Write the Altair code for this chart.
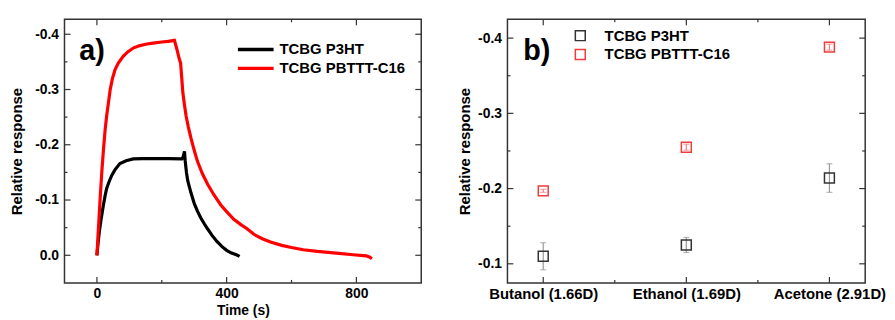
import altair as alt
import pandas as pd

FONT = "Liberation Sans"
FRAME = "#333333"

# ---------------- panel a) : time response ----------------
series = ["TCBG P3HT", "TCBG PBTTT-C16"]
line_colors = ["#000000", "#ff0000"]

p3ht_t = [0, 4, 8, 12, 20, 25, 30, 38, 46, 56, 71, 90, 112, 140, 180, 220, 262,
          266, 270, 272, 276, 280, 290, 300, 310, 320, 331, 341, 355, 370, 385,
          400, 415, 430, 440]
p3ht_v = [0.0, -0.025, -0.045, -0.062, -0.091, -0.107, -0.121, -0.134, -0.145,
          -0.155, -0.166, -0.171, -0.1745, -0.175, -0.175, -0.175, -0.1745,
          -0.178, -0.188, -0.172, -0.150, -0.135, -0.113, -0.094, -0.080,
          -0.068, -0.057, -0.048, -0.036, -0.025, -0.016, -0.009, -0.004,
          -0.001, 0.002]

pbttt_t = [0, 5, 10, 15, 20, 25, 30, 36, 41, 48, 56, 66, 81, 95, 112, 130, 150,
           173, 200, 220, 239, 247, 254, 258, 261, 265, 270, 275, 282, 290, 300,
           310, 325, 341, 360, 382, 400, 422, 445, 463, 484, 510, 535, 570, 600,
           636, 680, 738, 790, 830, 840, 848]
pbttt_v = [0.0, -0.052, -0.103, -0.150, -0.190, -0.225, -0.252, -0.278, -0.300,
           -0.320, -0.336, -0.348, -0.360, -0.368, -0.375, -0.379, -0.382,
           -0.384, -0.386, -0.387, -0.389, -0.372, -0.355, -0.348, -0.325,
           -0.294, -0.272, -0.252, -0.232, -0.212, -0.190, -0.170, -0.148,
           -0.129, -0.110, -0.091, -0.079, -0.065, -0.055, -0.048, -0.038,
           -0.030, -0.024, -0.018, -0.014, -0.010, -0.007, -0.004, -0.001,
           0.001, 0.003, 0.006]

a_x_major = [0, 400, 800]
a_x_minor = [200, 600]
a_y_major = [-0.4, -0.3, -0.2, -0.1, 0.0]
a_y_minor = [-0.35, -0.25, -0.15, -0.05]
a_x_domain = [-100, 1000]
a_y_domain = [-0.427, 0.05]

# ---------------- panel b) : solvents ----------------
solvents = ["Butanol (1.66D)", "Ethanol (1.69D)", "Acetone (2.91D)"]
p3ht_resp = [-0.110, -0.125, -0.214]
p3ht_err = [0.018, 0.010, 0.019]
pbttt_resp = [-0.197, -0.255, -0.388]
pbttt_err = [0.002, 0.004, 0.004]
point_colors = ["#333333", "#f03c3c"]
err_colors = ["#999999", "#f08080"]

b_x_major = [1, 2, 3]
b_x_minor = [1.5, 2.5]
b_y_major = [-0.4, -0.3, -0.2, -0.1]
b_y_minor = [-0.35, -0.25, -0.15]
b_x_domain = [0.75, 3.25]
b_y_domain = [-0.425, -0.0746]

panel_labels = ["a)", "b)"]

W_A, H = 360, 266
W_B = 361

NUM_LABEL = "replace(format(datum.value, '.1f'), '\u2212', '-')"

# ----- shared scales / axes -----
xs_a = alt.Scale(domain=a_x_domain, nice=False, zero=False)
ys_a = alt.Scale(domain=a_y_domain, nice=False, zero=False, reverse=True)
xax_a = alt.Axis(values=a_x_major, title="Time (s)", labelFlush=False,
                 labelFontSize=14, labelFontWeight="bold", labelPadding=4,
                 titleFontSize=14, titleFontWeight="bold", titlePadding=3)
yax_a = alt.Axis(values=a_y_major, title="Relative response", labelExpr=NUM_LABEL,
                 labelFontSize=14, labelFontWeight="bold", labelPadding=6,
                 titleFontSize=15, titleFontWeight="bold", titlePadding=10)

xs_b = alt.Scale(domain=b_x_domain, nice=False, zero=False)
ys_b = alt.Scale(domain=b_y_domain, nice=False, zero=False, reverse=True)
label_list = "[" + ",".join("'" + s + "'" for s in solvents) + "]"
xax_b = alt.Axis(values=b_x_major, title=None, labelExpr=label_list + "[datum.value-1]",
                 labelFlush=False, labelFontSize=15, labelFontWeight="bold",
                 labelPadding=4)
yax_b = alt.Axis(values=b_y_major, title="Relative response", labelExpr=NUM_LABEL,
                 labelFontSize=14, labelFontWeight="bold", labelPadding=6,
                 titleFontSize=15, titleFontWeight="bold", titlePadding=5)


def tick_layers(xs, ys, xax, yax, xmaj, xmin, ymaj, ymin, W, Hh):
    layers = []
    for vals, L in ((xmaj, 6), (xmin, 3)):
        base = alt.Chart(pd.DataFrame({"v": vals})).mark_rule(color=FRAME, strokeWidth=1.2)
        xenc = alt.X("v:Q", scale=xs, axis=xax)
        layers.append(base.encode(x=xenc, y=alt.value(Hh), y2=alt.value(Hh - L)))
        layers.append(base.encode(x=xenc, y=alt.value(0), y2=alt.value(L)))
    for vals, L in ((ymaj, 6), (ymin, 3)):
        base = alt.Chart(pd.DataFrame({"v": vals})).mark_rule(color=FRAME, strokeWidth=1.2)
        yenc = alt.Y("v:Q", scale=ys, axis=yax)
        layers.append(base.encode(y=yenc, x=alt.value(0), x2=alt.value(L)))
        layers.append(base.encode(y=yenc, x=alt.value(W), x2=alt.value(W - L)))
    return layers


# ----- panel a -----
a_df = pd.DataFrame({
    "t": p3ht_t + pbttt_t,
    "v": p3ht_v + pbttt_v,
    "s": [series[0]] * len(p3ht_t) + [series[1]] * len(pbttt_t),
})

lines = alt.Chart(a_df).mark_line(strokeWidth=3.2).encode(
    x=alt.X("t:Q", scale=xs_a, axis=xax_a),
    y=alt.Y("v:Q", scale=ys_a, axis=yax_a),
    color=alt.Color("s:N", scale=alt.Scale(domain=series, range=line_colors),
                    legend=alt.Legend(title=None, orient="none", legendX=173, legendY=22,
                                      symbolType="stroke", symbolSize=1296,
                                      symbolStrokeWidth=3.5, clipHeight=17,
                                      rowPadding=2, padding=0, labelOffset=4,
                                      labelFont=FONT, labelFontSize=15,
                                      labelFontWeight="bold", labelColor="#000000")),
    detail="s:N",
)

a_text = alt.Chart(pd.DataFrame({"lab": [panel_labels[0]]})).mark_text(
    font=FONT, fontSize=29, fontWeight="bold", align="left", baseline="alphabetic",
    color="#000000").encode(x=alt.value(15), y=alt.value(41), text="lab:N")

left = alt.layer(lines, *tick_layers(xs_a, ys_a, xax_a, yax_a, a_x_major, a_x_minor,
                                     a_y_major, a_y_minor, W_A, H), a_text
                 ).properties(width=W_A, height=H)

# ----- panel b -----
idx = list(range(1, len(solvents) + 1))
b_df = pd.DataFrame({
    "i": idx + idx,
    "r": p3ht_resp + pbttt_resp,
    "e": p3ht_err + pbttt_err,
    "s": [series[0]] * len(idx) + [series[1]] * len(idx),
})
b_df["lo"] = b_df["r"] - b_df["e"]
b_df["hi"] = b_df["r"] + b_df["e"]

err_layers = []
for s, c in zip(series, err_colors):
    base = alt.Chart(b_df).transform_filter(alt.datum.s == s)
    err_layers.append(base.mark_rule(color=c, strokeWidth=1.2).encode(
        x=alt.X("i:Q", scale=xs_b, axis=xax_b),
        y=alt.Y("lo:Q", scale=ys_b, axis=yax_b), y2="hi:Q"))
    for f in ("lo", "hi"):
        err_layers.append(base.mark_tick(color=c, orient="horizontal", size=6,
                                         thickness=1.2).encode(
            x=alt.X("i:Q", scale=xs_b, axis=xax_b),
            y=alt.Y(f + ":Q", scale=ys_b, axis=yax_b)))

points = alt.Chart(b_df).mark_point(shape="square", filled=False, size=100,
                                    strokeWidth=1.5, opacity=1).encode(
    x=alt.X("i:Q", scale=xs_b, axis=xax_b),
    y=alt.Y("r:Q", scale=ys_b, axis=yax_b),
    color=alt.Color("s:N", scale=alt.Scale(domain=series, range=point_colors),
                    legend=alt.Legend(title=None, orient="none", legendX=66, legendY=8,
                                      symbolType="square", symbolSize=100,
                                      symbolStrokeWidth=1.5, clipHeight=17,
                                      rowPadding=2, padding=0, labelOffset=17,
                                      labelFont=FONT, labelFontSize=15,
                                      labelFontWeight="bold", labelColor="#000000")),
)

b_text = alt.Chart(pd.DataFrame({"lab": [panel_labels[1]]})).mark_text(
    font=FONT, fontSize=29, fontWeight="bold", align="left", baseline="alphabetic",
    color="#000000").encode(x=alt.value(16), y=alt.value(41), text="lab:N")

right = alt.layer(*err_layers, points,
                  *tick_layers(xs_b, ys_b, xax_b, yax_b, b_x_major, b_x_minor,
                               b_y_major, b_y_minor, W_B, H), b_text
                  ).properties(width=W_B, height=H)

chart = alt.hconcat(left, right, spacing=34).resolve_scale(
    x="independent", y="independent", color="independent"
).resolve_legend(color="independent").properties(
    padding={"left": 1, "top": 8, "right": 0, "bottom": 0},
    background="white",
).configure_view(stroke=FRAME, strokeWidth=1.5).configure_axis(
    grid=False, domain=False, ticks=False, tickSize=0,
    labelFont=FONT, titleFont=FONT, labelColor="#000000", titleColor="#000000",
).configure_text(font=FONT)

chart.save("out.html", embed_options={"renderer": "svg", "actions": False})
